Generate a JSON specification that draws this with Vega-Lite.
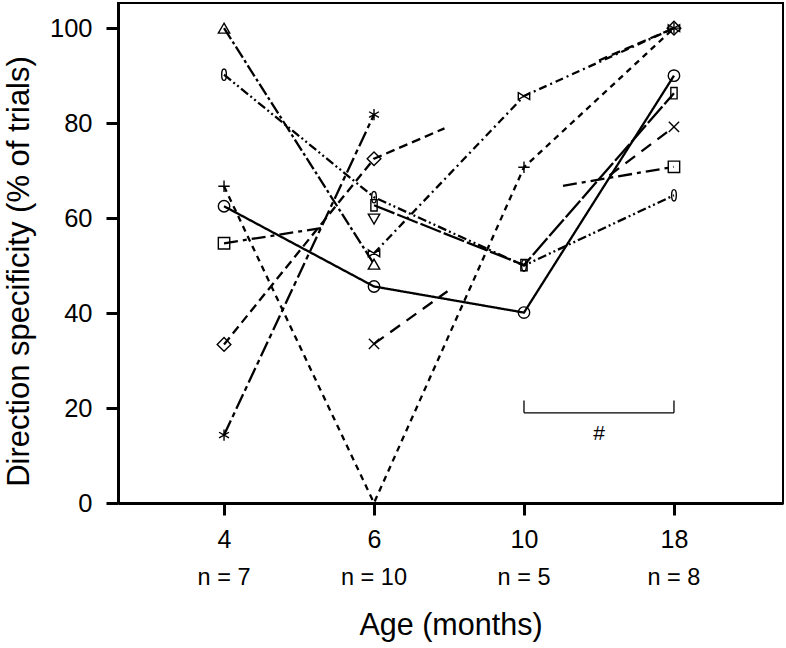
{
  "$schema": "https://vega.github.io/schema/vega-lite/v6.json",
  "width": 665,
  "height": 500,
  "autosize": {"type": "none"},
  "padding": {"left": 118, "top": 3, "right": 3, "bottom": 145},
  "background": "white",
  "config": {
    "view": {"stroke": "black", "strokeWidth": 2},
    "font": "Liberation Sans",
    "axis": {
      "domainColor": "black", "domainWidth": 3, "tickColor": "black", "tickWidth": 3, "tickSize": 12,
      "labelColor": "black", "titleColor": "black", "titleFontWeight": "normal", "grid": false,
      "labelFont": "Liberation Sans", "titleFont": "Liberation Sans"
    }
  },
  "datasets": {
    "lines": [
      {"subj": "tri", "seg": "tri-a", "pos": 1, "val": 100},
      {"subj": "tri", "seg": "tri-a", "pos": 2, "val": 50.3},
      {"subj": "ell", "seg": "ell-a", "pos": 1, "val": 90.2},
      {"subj": "ell", "seg": "ell-a", "pos": 2, "val": 64.4},
      {"subj": "ell", "seg": "ell-a", "pos": 3, "val": 50},
      {"subj": "ell", "seg": "ell-a", "pos": 4, "val": 64.8},
      {"subj": "plus", "seg": "plus-a", "pos": 1, "val": 66.7},
      {"subj": "plus", "seg": "plus-a", "pos": 2, "val": 0},
      {"subj": "plus", "seg": "plus-a", "pos": 3, "val": 70.7},
      {"subj": "plus", "seg": "plus-a", "pos": 4, "val": 100},
      {"subj": "circ", "seg": "circ-a", "pos": 1, "val": 62.5},
      {"subj": "circ", "seg": "circ-a", "pos": 2, "val": 45.6},
      {"subj": "circ", "seg": "circ-a", "pos": 3, "val": 40.1},
      {"subj": "circ", "seg": "circ-a", "pos": 4, "val": 90},
      {"subj": "sq", "seg": "sq-a", "pos": 1, "val": 54.7},
      {"subj": "sq", "seg": "sq-a", "pos": 1.65, "val": 57.9},
      {"subj": "sq", "seg": "sq-b", "pos": 3.26, "val": 66.8},
      {"subj": "sq", "seg": "sq-b", "pos": 4, "val": 70.8},
      {"subj": "dia", "seg": "dia-a", "pos": 1, "val": 33.4},
      {"subj": "dia", "seg": "dia-a", "pos": 2, "val": 72.5},
      {"subj": "dia", "seg": "dia-a", "pos": 2.47, "val": 78.9},
      {"subj": "dia", "seg": "dia-b", "pos": 3.5, "val": 93.2},
      {"subj": "dia", "seg": "dia-b", "pos": 4, "val": 100},
      {"subj": "ast", "seg": "ast-a", "pos": 1, "val": 14.3},
      {"subj": "ast", "seg": "ast-a", "pos": 2, "val": 81.8},
      {"subj": "ssq", "seg": "ssq-a", "pos": 2, "val": 62.7},
      {"subj": "ssq", "seg": "ssq-a", "pos": 3, "val": 50.1},
      {"subj": "ssq", "seg": "ssq-a", "pos": 4, "val": 86.3},
      {"subj": "bow", "seg": "bow-a", "pos": 2, "val": 52.6},
      {"subj": "bow", "seg": "bow-a", "pos": 3, "val": 85.7},
      {"subj": "bow", "seg": "bow-a", "pos": 4, "val": 100},
      {"subj": "x", "seg": "x-a", "pos": 2, "val": 33.5},
      {"subj": "x", "seg": "x-a", "pos": 2.49, "val": 44.6},
      {"subj": "x", "seg": "x-b", "pos": 3.57, "val": 69},
      {"subj": "x", "seg": "x-b", "pos": 4, "val": 79.2}
    ],
    "points": [
      {"subj": "tri", "pos": 1, "val": 100},
      {"subj": "tri", "pos": 2, "val": 50.3},
      {"subj": "ell", "pos": 1, "val": 90.2},
      {"subj": "ell", "pos": 2, "val": 64.4},
      {"subj": "ell", "pos": 3, "val": 50},
      {"subj": "ell", "pos": 4, "val": 64.8},
      {"subj": "plus", "pos": 1, "val": 66.7},
      {"subj": "plus", "pos": 3, "val": 70.7},
      {"subj": "plus", "pos": 4, "val": 100},
      {"subj": "circ", "pos": 1, "val": 62.5},
      {"subj": "circ", "pos": 2, "val": 45.6},
      {"subj": "circ", "pos": 3, "val": 40.1},
      {"subj": "circ", "pos": 4, "val": 90},
      {"subj": "sq", "pos": 1, "val": 54.7},
      {"subj": "sq", "pos": 4, "val": 70.8},
      {"subj": "dia", "pos": 1, "val": 33.4},
      {"subj": "dia", "pos": 2, "val": 72.5},
      {"subj": "dia", "pos": 4, "val": 100},
      {"subj": "ast", "pos": 1, "val": 14.3},
      {"subj": "ast", "pos": 2, "val": 81.8},
      {"subj": "ssq", "pos": 2, "val": 62.7},
      {"subj": "ssq", "pos": 3, "val": 50.1},
      {"subj": "ssq", "pos": 4, "val": 86.3},
      {"subj": "bow", "pos": 2, "val": 52.6},
      {"subj": "bow", "pos": 3, "val": 85.7},
      {"subj": "bow", "pos": 4, "val": 100},
      {"subj": "x", "pos": 2, "val": 33.5},
      {"subj": "x", "pos": 4, "val": 79.2},
      {"subj": "itri", "pos": 2, "val": 59.8}
    ],
    "bracket": [
      {"x1": 3, "x2": 4, "y1": 19, "y2": 19},
      {"x1": 3, "x2": 3, "y1": 19, "y2": 21.6},
      {"x1": 4, "x2": 4, "y1": 19, "y2": 21.6}
    ],
    "notes": [
      {"pos": 3.5, "val": 14.5, "label": "#"}
    ],
    "nlabels": [
      {"pos": 1, "label": "n = 7"},
      {"pos": 2, "label": "n = 10"},
      {"pos": 3, "label": "n = 5"},
      {"pos": 4, "label": "n = 8"}
    ]
  },
  "layer": [
    {
      "data": {"name": "lines"},
      "mark": {"type": "line", "color": "black", "strokeCap": "butt"},
      "encoding": {
        "x": {
          "field": "pos", "type": "quantitative",
          "scale": {"domain": [0.293, 4.727], "nice": false, "zero": false},
          "axis": {
            "values": [1, 2, 3, 4],
            "labelExpr": "datum.value == 1 ? '4' : datum.value == 2 ? '6' : datum.value == 3 ? '10' : '18'",
            "labelFontSize": 25, "labelPadding": 12,
            "title": "Age (months)", "titleFontSize": 30.5, "titlePadding": 58
          }
        },
        "y": {
          "field": "val", "type": "quantitative",
          "scale": {"domain": [0, 105.3], "nice": false, "zero": false},
          "axis": {
            "values": [0, 20, 40, 60, 80, 100],
            "labelFontSize": 25.5, "labelPadding": 14,
            "title": "Direction specificity (% of trials)", "titleFontSize": 31, "titlePadding": 14, "titleY": 268
          }
        },
        "detail": {"field": "seg"},
        "strokeDash": {
          "field": "subj", "type": "nominal", "legend": null,
          "scale": {
            "domain": ["tri", "ell", "plus", "circ", "sq", "dia", "ast", "ssq", "bow", "x"],
            "range": [[13, 3, 3, 3], [9, 3, 2, 3, 2, 3], [6, 5], [1, 0], [14, 5, 4, 5], [9, 5], [16, 4, 5, 4], [22, 3], [8, 4, 2, 4], [12, 8]]
          }
        },
        "strokeWidth": {
          "field": "subj", "type": "nominal", "legend": null,
          "scale": {
            "domain": ["tri", "ell", "plus", "circ", "sq", "dia", "ast", "ssq", "bow", "x"],
            "range": [2.3, 2.3, 2.3, 1.1, 2.3, 2.3, 2.3, 3.2, 2.3, 2.3]
          }
        }
      }
    },
    {
      "data": {"name": "points"},
      "mark": {"type": "point", "filled": false, "color": "black", "strokeWidth": 1.4, "size": 130, "opacity": 1},
      "encoding": {
        "x": {"field": "pos", "type": "quantitative"},
        "y": {"field": "val", "type": "quantitative"},
        "shape": {
          "field": "subj", "type": "nominal", "legend": null,
          "scale": {
            "domain": ["tri", "ell", "plus", "circ", "sq", "dia", "ast", "ssq", "bow", "x", "itri"],
            "range": [
              "triangle-up",
              "M0,-1C0.55,-1 0.55,1 0,1C-0.55,1 -0.55,-1 0,-1Z",
              "M-1,0L1,0M0,-1L0,1",
              "circle",
              "square",
              "M0,-1.2L1.2,0L0,1.2L-1.2,0Z",
              "M0,-1L0,1M-0.87,-0.5L0.87,0.5M-0.87,0.5L0.87,-0.5",
              "M-0.55,-1L0.55,-1L0.55,1L-0.55,1Z",
              "M-1,-0.6L1,0.6L1,-0.6L-1,0.6Z",
              "M-0.9,-0.9L0.9,0.9M-0.9,0.9L0.9,-0.9",
              "triangle-down"
            ]
          }
        }
      }
    },
    {
      "data": {"name": "bracket"},
      "mark": {"type": "rule", "color": "black", "strokeWidth": 1.3},
      "encoding": {
        "x": {"field": "x1", "type": "quantitative"},
        "x2": {"field": "x2"},
        "y": {"field": "y1", "type": "quantitative"},
        "y2": {"field": "y2"}
      }
    },
    {
      "data": {"name": "notes"},
      "mark": {"type": "text", "color": "black", "fontSize": 21, "baseline": "middle", "align": "center"},
      "encoding": {
        "x": {"field": "pos", "type": "quantitative"},
        "y": {"field": "val", "type": "quantitative"},
        "text": {"field": "label"}
      }
    },
    {
      "data": {"name": "nlabels"},
      "mark": {"type": "text", "color": "black", "fontSize": 23.5, "baseline": "middle", "align": "center"},
      "encoding": {
        "x": {"field": "pos", "type": "quantitative"},
        "y": {"datum": -15.8, "type": "quantitative"},
        "text": {"field": "label"}
      }
    }
  ]
}
